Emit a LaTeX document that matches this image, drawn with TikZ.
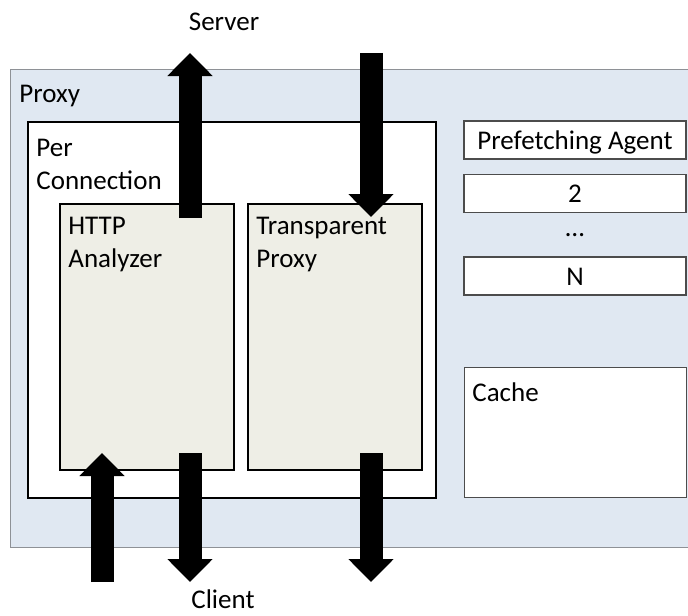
\documentclass[tikz,border=0pt]{standalone}
\usepackage{fontspec}
\setmainfont{Carlito}
\usetikzlibrary{arrows.meta,positioning}
\definecolor{proxyfill}{HTML}{E0E8F2}
\definecolor{unitfill}{HTML}{EEEEE6}
\definecolor{rim}{HTML}{8E9196}
\tikzset{shell/.style={draw=rim,fill=proxyfill,line width=0.7pt,anchor=north west,inner sep=0pt},
 panel/.style={draw=black,fill=white,line width=0.9pt,anchor=north west,inner sep=0pt},
 unit/.style={draw=black,fill=unitfill,line width=0.9pt,anchor=north west,inner sep=0pt,minimum width=87pt,minimum height=133pt},
 slot/.style={draw=black!70,fill=white,line width=0.7pt,inner sep=0pt,minimum width=111pt,minimum height=19pt,text height=9.5pt,text depth=0pt,font=\fontsize{13.5}{16.5}\selectfont},
 lbl/.style={font=\fontsize{13.5}{16.5}\selectfont,inner sep=0pt,align=left},
 flow/.style={line width=11.5pt,-{Triangle[width=22pt,length=11.5pt]}}}

\begin{document}
\begin{tikzpicture}[x=0.5pt,y=-0.5pt]
\useasboundingbox (0,0) rectangle (688,615);
% nested boxes
\node[shell,minimum width=345pt,minimum height=239pt](proxy) at (10,69) {};
\node[panel,minimum width=204pt,minimum height=188pt](conn) at (27,121) {};
\node[unit](http) at (59,203) {};
\node[unit](tproxy) at (247,203) {};
\node[lbl,anchor=north west](proxytxt) at (19,85) {Proxy};
\node[lbl,anchor=north west](conntxt) at (36,139) {Per\\Connection};
\node[lbl,anchor=north west](httptxt) at (68,217) {HTTP\\Analyzer};
\node[lbl,anchor=north west](tproxytxt) at (256,217) {Transparent\\Proxy};
% agents and cache on the right
\node[slot](agent) at (575,140) {Prefetching Agent};
\node[slot,below=7pt of agent](agent2) {2};
\node[lbl](dots) at (575,235) {…};
\node[slot,below=21.5pt of agent2](agentN) {N};
\node[slot,anchor=north west,minimum height=65pt](cache) at (464,367) {};
\node[lbl,anchor=north west](cachetxt) at (472,382) {Cache};
% endpoints
\node[lbl](server) at (224,22) {Server};
\node[lbl](client) at (223,599) {Client};
\coordinate (toserver) at (190,53);\coordinate (fromhttp) at (190,218);
\coordinate (fromserver) at (371,53);\coordinate (intoproxy) at (371,217);
\coordinate (fromclient) at (102,582);\coordinate (intohttp) at (102,453);
\coordinate (outhttp) at (190,453);\coordinate (tohttpclient) at (190,582);
\coordinate (outproxy) at (371,453);\coordinate (toproxyclient) at (371,582);
\draw[flow](fromhttp)--(toserver);\draw[flow](fromserver)--(intoproxy);
\draw[flow](fromclient)--(intohttp);\draw[flow](outhttp)--(tohttpclient);\draw[flow](outproxy)--(toproxyclient);
\end{tikzpicture}
\end{document}
